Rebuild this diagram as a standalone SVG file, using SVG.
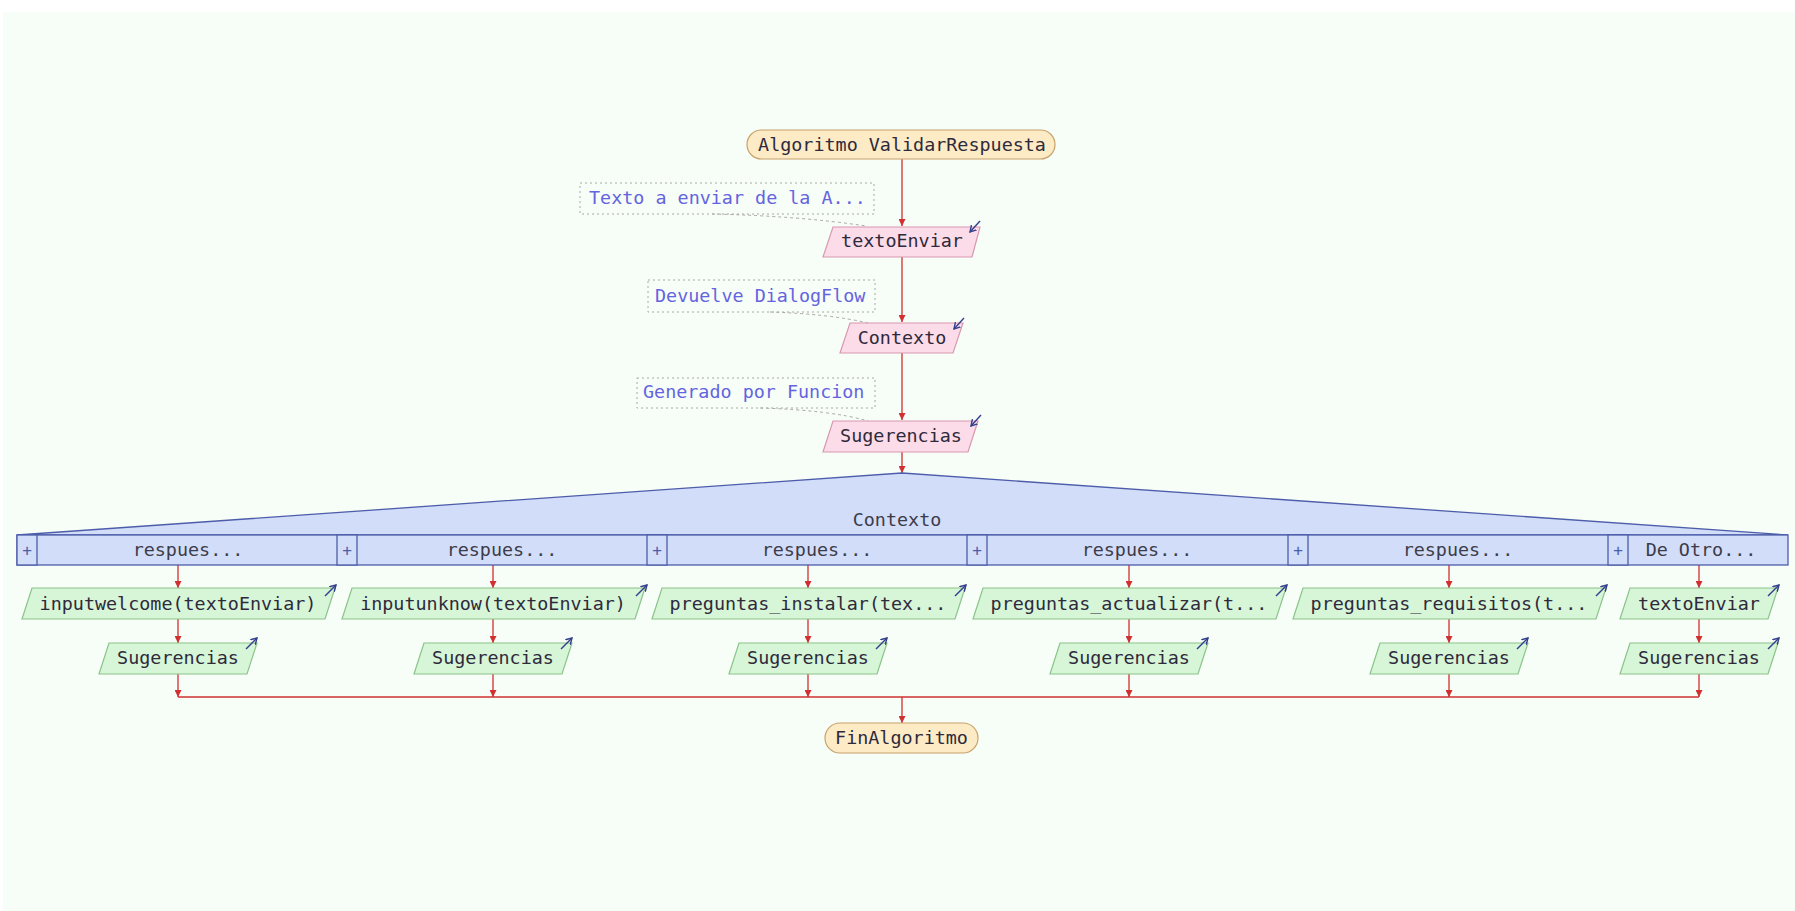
<svg xmlns="http://www.w3.org/2000/svg" width="1795" height="911" viewBox="0 0 1795 911">
<style>
text{font-family:"DejaVu Sans Mono","Liberation Mono",monospace;font-size:18.4px}
.t{fill:#2e2a3c;text-anchor:middle}
.cm{fill:#6464e0}
.cbox{fill:none;stroke:#a8a8a8;stroke-width:1;stroke-dasharray:2 3}
.cl{fill:none;stroke:#a8a8a8;stroke-width:1;stroke-dasharray:3 3}
.term{fill:#fdebc6;stroke:#c8a26a;stroke-width:1.2}
.pink{fill:#fcdce8;stroke:#d898b0;stroke-width:1.2}
.green{fill:#d7f5d7;stroke:#8ac48a;stroke-width:1.2}
.sw{fill:#d2ddfa;stroke:#4d5daa;stroke-width:1.3}
.plus{fill:#d2ddfa;stroke:#4d5daa;stroke-width:1.3}
.pt{fill:#4d5daa;text-anchor:middle;font-size:16px}
.lab{fill:#3c3c48;text-anchor:middle}
.flow{fill:none;stroke:#d03030;stroke-width:1.3}
.icon{fill:none;stroke:#34408c;stroke-width:1.4}
</style>
<defs>
<marker id="ah" markerWidth="8" markerHeight="7" refX="7" refY="3.5" orient="auto" markerUnits="userSpaceOnUse">
<path d="M0,0 L7,3.5 L0,7 Z" fill="#d03030"/>
</marker>
<marker id="ic" markerWidth="8" markerHeight="8" refX="6" refY="4" orient="auto" markerUnits="userSpaceOnUse">
<path d="M0,0.5 L6,4 L0,7.5" fill="none" stroke="#34408c" stroke-width="1.4"/>
</marker>
</defs>
<rect x="0" y="0" width="1795" height="911" fill="#ffffff"/>
<rect x="3" y="12" width="1792" height="899" fill="#f7fdf7"/>

<g id="connectors">
<line class="flow" x1="902" y1="159" x2="902" y2="226" marker-end="url(#ah)"/>
<line class="flow" x1="902" y1="257" x2="902" y2="322" marker-end="url(#ah)"/>
<line class="flow" x1="902" y1="353" x2="902" y2="420" marker-end="url(#ah)"/>
<line class="flow" x1="902" y1="452" x2="902" y2="473" marker-end="url(#ah)"/>
<line class="flow" x1="178" y1="565" x2="178" y2="588" marker-end="url(#ah)"/>
<line class="flow" x1="493" y1="565" x2="493" y2="588" marker-end="url(#ah)"/>
<line class="flow" x1="808" y1="565" x2="808" y2="588" marker-end="url(#ah)"/>
<line class="flow" x1="1129" y1="565" x2="1129" y2="588" marker-end="url(#ah)"/>
<line class="flow" x1="1449" y1="565" x2="1449" y2="588" marker-end="url(#ah)"/>
<line class="flow" x1="1699" y1="565" x2="1699" y2="588" marker-end="url(#ah)"/>
<line class="flow" x1="178" y1="619" x2="178" y2="643" marker-end="url(#ah)"/>
<line class="flow" x1="493" y1="619" x2="493" y2="643" marker-end="url(#ah)"/>
<line class="flow" x1="808" y1="619" x2="808" y2="643" marker-end="url(#ah)"/>
<line class="flow" x1="1129" y1="619" x2="1129" y2="643" marker-end="url(#ah)"/>
<line class="flow" x1="1449" y1="619" x2="1449" y2="643" marker-end="url(#ah)"/>
<line class="flow" x1="1699" y1="619" x2="1699" y2="643" marker-end="url(#ah)"/>
<line class="flow" x1="178" y1="674" x2="178" y2="697" marker-end="url(#ah)"/>
<line class="flow" x1="493" y1="674" x2="493" y2="697" marker-end="url(#ah)"/>
<line class="flow" x1="808" y1="674" x2="808" y2="697" marker-end="url(#ah)"/>
<line class="flow" x1="1129" y1="674" x2="1129" y2="697" marker-end="url(#ah)"/>
<line class="flow" x1="1449" y1="674" x2="1449" y2="697" marker-end="url(#ah)"/>
<line class="flow" x1="1699" y1="674" x2="1699" y2="697" marker-end="url(#ah)"/>
<line class="flow" x1="178" y1="697" x2="1699" y2="697"/>
<line class="flow" x1="902" y1="697" x2="902" y2="723" marker-end="url(#ah)"/>
<path class="cl" d="M712,214 Q800,216 866,226"/>
<path class="cl" d="M770,312 Q830,314 868,323"/>
<path class="cl" d="M760,408 Q830,410 868,421"/>
</g>

<g id="start">
<rect class="term" x="747" y="130" width="308" height="29" rx="14.5"/>
<text class="t" x="902" y="151">Algoritmo ValidarRespuesta</text>
</g>

<g id="comment1">
<rect class="cbox" x="580" y="183" width="294" height="31"/>
<text class="cm" x="589" y="204">Texto a enviar de la A...</text>
</g>
<g id="read1">
<polygon class="pink" points="833,227 980,227 972,257 823,257"/>
<text class="t" x="902" y="247">textoEnviar</text>
<line class="icon" x1="980" y1="221" x2="970" y2="232" marker-end="url(#ic)"/>
</g>

<g id="comment2">
<rect class="cbox" x="648" y="280" width="227" height="32"/>
<text class="cm" x="655" y="302">Devuelve DialogFlow</text>
</g>
<g id="read2">
<polygon class="pink" points="850,323 963,323 953,353 840,353"/>
<text class="t" x="902" y="344">Contexto</text>
<line class="icon" x1="964" y1="318" x2="954" y2="329" marker-end="url(#ic)"/>
</g>

<g id="comment3">
<rect class="cbox" x="637" y="378" width="238" height="30"/>
<text class="cm" x="643" y="398">Generado por Funcion</text>
</g>
<g id="read3">
<polygon class="pink" points="833,421 978,421 968,452 823,452"/>
<text class="t" x="901" y="442">Sugerencias</text>
<line class="icon" x1="981" y1="415" x2="971" y2="426" marker-end="url(#ic)"/>
</g>

<g id="switch">
<polygon class="sw" points="17,535 902,473 1788,535"/>
<rect class="sw" x="17" y="535" width="1771" height="30"/>
<text class="lab" x="897" y="526">Contexto</text>
<rect class="plus" x="17" y="535" width="20" height="30"/><text class="pt" x="27" y="556">+</text>
<rect class="plus" x="337" y="535" width="20" height="30"/><text class="pt" x="347" y="556">+</text>
<rect class="plus" x="647" y="535" width="20" height="30"/><text class="pt" x="657" y="556">+</text>
<rect class="plus" x="967" y="535" width="20" height="30"/><text class="pt" x="977" y="556">+</text>
<rect class="plus" x="1288" y="535" width="20" height="30"/><text class="pt" x="1298" y="556">+</text>
<rect class="plus" x="1608" y="535" width="20" height="30"/><text class="pt" x="1618" y="556">+</text>
<text class="lab" x="188" y="556">respues...</text>
<text class="lab" x="502" y="556">respues...</text>
<text class="lab" x="817" y="556">respues...</text>
<text class="lab" x="1137" y="556">respues...</text>
<text class="lab" x="1458" y="556">respues...</text>
<text class="lab" x="1701" y="556">De Otro...</text>
</g>

<g id="case1">
<polygon class="green" points="32,588 335,588 325,619 22,619"/>
<text class="t" x="178" y="610">inputwelcome(textoEnviar)</text>
<line class="icon" x1="325" y1="596" x2="336" y2="585" marker-end="url(#ic)"/>
<polygon class="green" points="109,643 257,643 247,674 99,674"/>
<text class="t" x="178" y="664">Sugerencias</text>
<line class="icon" x1="246" y1="649" x2="257" y2="638" marker-end="url(#ic)"/>
</g>
<g id="case2">
<polygon class="green" points="352,588 645,588 635,619 342,619"/>
<text class="t" x="493" y="610">inputunknow(textoEnviar)</text>
<line class="icon" x1="636" y1="596" x2="647" y2="585" marker-end="url(#ic)"/>
<polygon class="green" points="424,643 572,643 562,674 414,674"/>
<text class="t" x="493" y="664">Sugerencias</text>
<line class="icon" x1="561" y1="649" x2="572" y2="638" marker-end="url(#ic)"/>
</g>
<g id="case3">
<polygon class="green" points="662,588 965,588 955,619 652,619"/>
<text class="t" x="808" y="610">preguntas_instalar(tex...</text>
<line class="icon" x1="955" y1="596" x2="966" y2="585" marker-end="url(#ic)"/>
<polygon class="green" points="739,643 887,643 877,674 729,674"/>
<text class="t" x="808" y="664">Sugerencias</text>
<line class="icon" x1="876" y1="649" x2="887" y2="638" marker-end="url(#ic)"/>
</g>
<g id="case4">
<polygon class="green" points="983,588 1286,588 1276,619 973,619"/>
<text class="t" x="1129" y="610">preguntas_actualizar(t...</text>
<line class="icon" x1="1276" y1="596" x2="1287" y2="585" marker-end="url(#ic)"/>
<polygon class="green" points="1060,643 1208,643 1198,674 1050,674"/>
<text class="t" x="1129" y="664">Sugerencias</text>
<line class="icon" x1="1197" y1="649" x2="1208" y2="638" marker-end="url(#ic)"/>
</g>
<g id="case5">
<polygon class="green" points="1303,588 1606,588 1596,619 1293,619"/>
<text class="t" x="1449" y="610">preguntas_requisitos(t...</text>
<line class="icon" x1="1596" y1="596" x2="1607" y2="585" marker-end="url(#ic)"/>
<polygon class="green" points="1380,643 1528,643 1518,674 1370,674"/>
<text class="t" x="1449" y="664">Sugerencias</text>
<line class="icon" x1="1517" y1="649" x2="1528" y2="638" marker-end="url(#ic)"/>
</g>
<g id="case6">
<polygon class="green" points="1630,588 1778,588 1768,619 1620,619"/>
<text class="t" x="1699" y="610">textoEnviar</text>
<line class="icon" x1="1768" y1="596" x2="1779" y2="585" marker-end="url(#ic)"/>
<polygon class="green" points="1630,643 1778,643 1768,674 1620,674"/>
<text class="t" x="1699" y="664">Sugerencias</text>
<line class="icon" x1="1768" y1="649" x2="1779" y2="638" marker-end="url(#ic)"/>
</g>

<g id="end">
<rect class="term" x="825" y="723" width="153" height="30" rx="15"/>
<text class="t" x="901.5" y="744">FinAlgoritmo</text>
</g>
</svg>
